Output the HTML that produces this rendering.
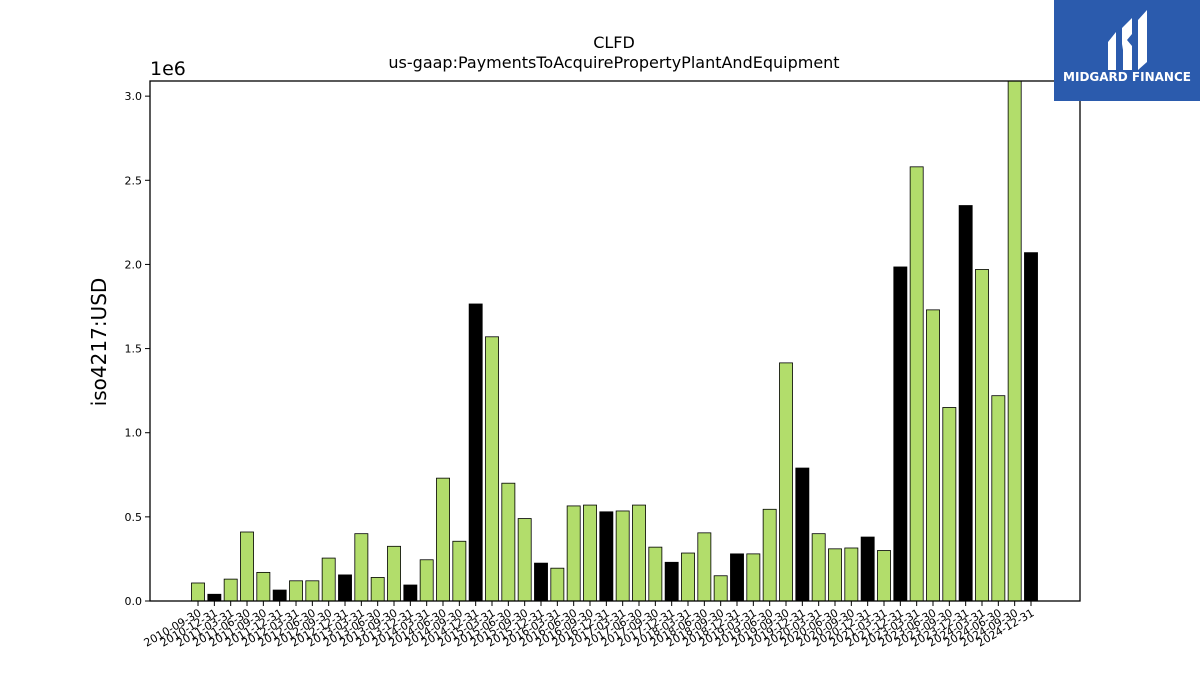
<!DOCTYPE html>
<html><head><meta charset="utf-8">
<style>
body{margin:0;background:#fff;}
svg text{font-family:"DejaVu Sans","Liberation Sans",sans-serif;}
</style></head>
<body>
<svg id="chart" width="1200" height="675" xmlns="http://www.w3.org/2000/svg">
<text x="614" y="48" text-anchor="middle" font-size="16">CLFD</text>
<text x="614" y="68" text-anchor="middle" font-size="16">us-gaap:PaymentsToAcquirePropertyPlantAndEquipment</text>
<text transform="translate(106,342) rotate(-90)" text-anchor="middle" font-size="20">iso4217:USD</text>
<text x="150" y="75" font-size="19">1e6</text>
<g id="bars"></g>
<g id="xticks"></g>
<g id="yticks"></g>
<rect x="150" y="81" width="930" height="520" fill="none" stroke="#000" stroke-width="1.3"/>
<g>
<rect x="1054" y="0" width="146" height="101" fill="#2b5bad"/>
<path d="M1108 42 L1116 32 L1116 70 L1108 70 Z" fill="#fff"/>
<path d="M1122 28 L1132 18 L1132 34 L1127 40 L1132 46 L1132 70 L1123 70 L1123 50 L1122 44 Z" fill="#fff"/>
<path d="M1138 20 L1147 10 L1147 62 L1138 70 Z" fill="#fff"/>
<text x="1127" y="81" text-anchor="middle" font-size="12" font-weight="bold" fill="#fff">MIDGARD FINANCE</text>
</g>
</svg>
<script>
const dates=["2010-09-30","2010-12-31","2011-03-31","2011-06-30","2011-09-30","2011-12-31","2012-03-31","2012-06-30","2012-09-30","2012-12-31","2013-03-31","2013-06-30","2013-09-30","2013-12-31","2014-03-31","2014-06-30","2014-09-30","2014-12-31","2015-03-31","2015-06-30","2015-09-30","2015-12-31","2016-03-31","2016-06-30","2016-09-30","2016-12-31","2017-03-31","2017-06-30","2017-09-30","2017-12-31","2018-03-31","2018-06-30","2018-09-30","2018-12-31","2019-03-31","2019-06-30","2019-09-30","2019-12-31","2020-03-31","2020-06-30","2020-09-30","2020-12-31","2021-03-31","2021-12-31","2023-03-31","2023-06-30","2023-09-30","2023-12-31","2024-03-31","2024-06-30","2024-09-30","2024-12-31"];
const values=[0.107,0.04,0.13,0.41,0.17,0.065,0.12,0.12,0.255,0.155,0.40,0.14,0.325,0.095,0.245,0.73,0.355,1.765,1.57,0.70,0.49,0.225,0.195,0.565,0.57,0.53,0.535,0.57,0.32,0.23,0.285,0.405,0.15,0.28,0.28,0.545,1.415,0.79,0.40,0.31,0.315,0.38,0.30,1.985,2.58,1.73,1.15,2.35,1.97,1.22,3.1,2.07];
const annual=[0,1,0,0,0,1,0,0,0,1,0,0,0,1,0,0,0,1,0,0,0,1,0,0,0,1,0,0,0,1,0,0,0,1,0,0,0,1,0,0,0,1,0,1,0,0,0,1,0,0,0,1];
const yTicks=[0,0.5,1.0,1.5,2.0,2.5,3.0];
const NS="http://www.w3.org/2000/svg";
const L=150,R=1080,T=81,B=601,xmin=-2.94,xmax=54.0,ymax=3.09;
const xs=i=>L+(i-xmin)/(xmax-xmin)*(R-L);
const ys=v=>B-Math.min(v,ymax)/ymax*(B-T);
const step=(R-L)/(xmax-xmin);
const bw=step*0.8;
const gb=document.getElementById('bars'),gx=document.getElementById('xticks'),gy=document.getElementById('yticks');
values.forEach((v,i)=>{
 const r=document.createElementNS(NS,'rect');
 
 
 r.setAttribute('x',xs(i)-bw/2);r.setAttribute('y',ys(v));
 r.setAttribute('width',bw);r.setAttribute('height',B-ys(v));
 r.setAttribute('fill',annual[i]?'#000':'#b2dd6b');r.setAttribute('stroke','#000');r.setAttribute('stroke-width','0.8');
 gb.appendChild(r);
 const t=document.createElementNS(NS,'line');
 
 
 t.setAttribute('x1',xs(i));t.setAttribute('x2',xs(i));t.setAttribute('y1',B);t.setAttribute('y2',B+5);t.setAttribute('stroke','#000');
 gx.appendChild(t);
 const lb=document.createElementNS(NS,'text');
 
 
 lb.setAttribute('text-anchor','end');lb.setAttribute('font-size','11');
 lb.setAttribute('transform','translate('+(xs(i)+4)+','+(B+14)+') rotate(-30)');
 lb.textContent=dates[i];
 gx.appendChild(lb);
});
yTicks.forEach(v=>{
 const t=document.createElementNS(NS,'line');
 
 
 t.setAttribute('x1',L-5);t.setAttribute('x2',L);t.setAttribute('y1',ys(v));t.setAttribute('y2',ys(v));t.setAttribute('stroke','#000');
 gy.appendChild(t);
 const lb=document.createElementNS(NS,'text');
 
 
 lb.setAttribute('text-anchor','end');lb.setAttribute('font-size','11');
 lb.setAttribute('x',L-8);lb.setAttribute('y',ys(v)+4);
 lb.textContent=v.toFixed(1);
 gy.appendChild(lb);
});
</script>
</body></html>
